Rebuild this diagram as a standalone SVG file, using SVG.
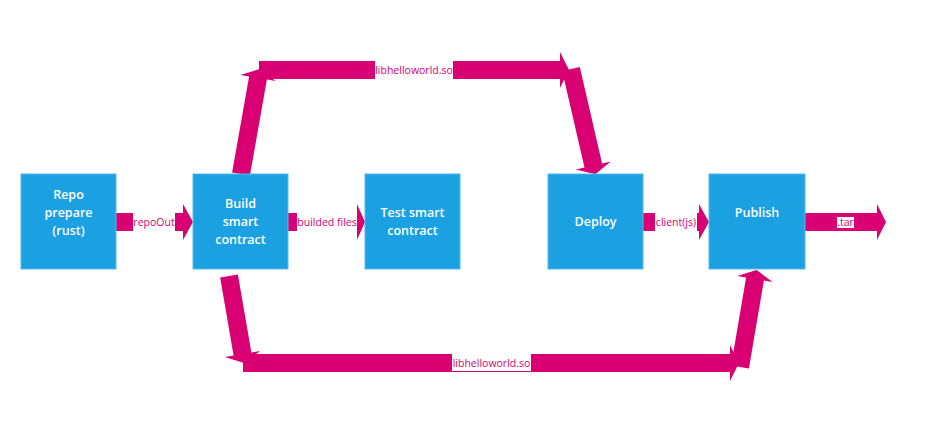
<svg xmlns="http://www.w3.org/2000/svg" width="941" height="440" viewBox="0 0 941 440">
<style>
.node{fill:#1ba1e2;stroke:#57b9ea;stroke-width:1}
.nt{font-family:"Open Sans","Noto Sans",sans-serif;font-size:12.5px;font-weight:600;fill:#ffffff;text-anchor:middle}
.arr{fill:#d80073;stroke:none}
.lbg{fill:#ffffff}
.lt{font-family:"Open Sans","Noto Sans",sans-serif;font-size:10.5px;fill:#d80073;text-anchor:middle}
</style>
<rect width="941" height="440" fill="#ffffff"/>
<g id="connectors">
  <!-- repoOut -->
  <polygon class="arr" points="116,213 183,213 183,204 193,222 183,240 183,231 116,231"/>
  <!-- builded files -->
  <polygon class="arr" points="288,213 357,213 357,204 365,222 357,240 357,231 288,231"/>
  <!-- client(js) -->
  <polygon class="arr" points="643,213 699,213 699,204 709,222 699,240 699,231 643,231"/>
  <!-- .tar -->
  <polygon class="arr" points="805,213 877,213 877,204 886,222 877,240 877,231 805,231"/>
  <!-- top path -->
  <polygon class="arr" points="232.1,172.4 249.1,76.4 240.3,74.9 259.6,69.1 275.7,81.1 266.9,79.6 249.9,175.6"/>
  <polygon class="arr" points="259,61 560,61 560,52 569,70 560,88 560,79 259,79"/>
  <polygon class="arr" points="562.2,71 584.5,167.5 575.8,169.6 595.3,174.3 610.8,161.4 602.1,163.5 579.8,67"/>
  <!-- bottom path -->
  <polygon class="arr" points="220.1,277.5 233.6,355.5 224.8,357.1 244,362.9 260.2,350.9 251.4,352.5 237.9,274.5"/>
  <polygon class="arr" points="243,354 730,354 730,345 739,363 730,381 730,372 243,372"/>
  <polygon class="arr" points="731.1,365.5 746.1,277.5 737.3,276 756.5,270.1 772.7,282 763.9,280.5 748.9,368.5"/>
  <!-- labels -->
  <rect class="lbg" x="133" y="212" width="42" height="20"/>
  <text class="lt" x="154" y="226">repoOut</text>
  <rect class="lbg" x="297" y="212" width="60" height="20"/>
  <text class="lt" x="327" y="226">builded files</text>
  <rect class="lbg" x="655" y="212" width="42" height="20"/>
  <text class="lt" x="676" y="226">client(js)</text>
  <rect class="lbg" x="837" y="217" width="17" height="11"/>
  <text class="lt" x="845.5" y="226">.tar</text>
  <rect class="lbg" x="375" y="60" width="78" height="20"/>
  <text class="lt" x="414" y="74">libhelloworld.so</text>
  <rect class="lbg" x="452" y="354" width="79" height="17"/>
  <text class="lt" x="491.5" y="367">libhelloworld.so</text>
</g>
<g id="repo">
  <rect class="node" x="21" y="174" width="95" height="95"/>
  <text class="nt" x="68.5" y="199">Repo</text>
  <text class="nt" x="68.5" y="217">prepare</text>
  <text class="nt" x="68.5" y="235">(rust)</text>
</g>
<g id="build">
  <rect class="node" x="193" y="174" width="95" height="95"/>
  <text class="nt" x="240.5" y="208">Build</text>
  <text class="nt" x="240.5" y="226">smart</text>
  <text class="nt" x="240.5" y="244">contract</text>
</g>
<g id="test">
  <rect class="node" x="365" y="174" width="95" height="95"/>
  <text class="nt" x="412.5" y="217">Test smart</text>
  <text class="nt" x="412.5" y="235">contract</text>
</g>
<g id="deploy">
  <rect class="node" x="548" y="174" width="95" height="95"/>
  <text class="nt" x="595.5" y="226">Deploy</text>
</g>
<g id="publish">
  <rect class="node" x="709" y="174" width="96" height="95"/>
  <text class="nt" x="757" y="217">Publish</text>
</g>
</svg>
